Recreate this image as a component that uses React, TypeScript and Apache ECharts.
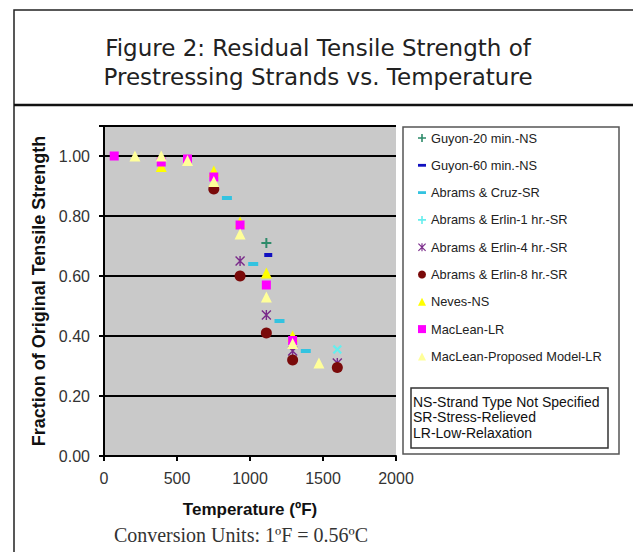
import React, { useEffect, useRef } from "react";
import * as echarts from "echarts";

const seriesNames = [
  "Guyon-20 min.-NS",
  "Guyon-60 min.-NS",
  "Abrams & Cruz-SR",
  "Abrams & Erlin-1 hr.-SR",
  "Abrams & Erlin-4 hr.-SR",
  "Abrams & Erlin-8 hr.-SR",
  "Neves-NS",
  "MacLean-LR",
  "MacLean-Proposed Model-LR",
];

const guyon20 = [[1112, 0.71]];
const guyon60 = [[1125, 0.67]];
const abramsCruz = [[842, 0.86], [1022, 0.64], [1202, 0.45], [1382, 0.35]];
const abramsErlin1 = [[1598, 0.355]];
const abramsErlin4 = [[932, 0.65], [1112, 0.47], [1292, 0.35], [1598, 0.31]];
const abramsErlin8 = [[752, 0.89], [932, 0.6], [1112, 0.41], [1292, 0.32], [1598, 0.295]];
const neves = [[392, 0.965], [752, 0.95], [932, 0.78], [1112, 0.61], [1292, 0.4]];
const macleanLR = [[70, 1.0], [392, 0.98], [572, 0.99], [752, 0.93], [932, 0.77], [1112, 0.57], [1292, 0.385]];
const macleanModel = [[212, 1.0], [392, 1.0], [572, 0.985], [752, 0.915], [932, 0.74], [1112, 0.53], [1292, 0.375], [1472, 0.31]];

const xTicks = [0, 500, 1000, 1500, 2000];
const yTicks = [0, 0.2, 0.4, 0.6, 0.8, 1.0];

const notes = ["NS-Strand Type Not Specified", "SR-Stress-Relieved", "LR-Low-Relaxation"];

const PLUS = "path://M4,0L6,0L6,4L10,4L10,6L6,6L6,10L4,10L4,6L0,6L0,4L4,4Z";
const STAR =
  "path://M0,1L1,0L10,9L9,10ZM9,0L10,1L1,10L0,9ZM4.3,0L5.7,0L5.7,10L4.3,10Z";
const DASH = "path://M0,0L10,0L10,3.5L0,3.5Z";

export default function App() {
  const ref = useRef<HTMLDivElement>(null);
  useEffect(() => {
    const chart = echarts.init(ref.current!, undefined, { renderer: "svg" });
    const datas = [guyon20, guyon60, abramsCruz, abramsErlin1, abramsErlin4, abramsErlin8, neves, macleanLR, macleanModel];
    const styles: any[] = [
      { symbol: PLUS, size: 10, color: "#2E8B6A", rotate: 0 },
      { symbol: DASH, size: [8, 4], color: "#1010C0", rotate: 0 },
      { symbol: DASH, size: [10, 4], color: "#33C3E0", rotate: 0 },
      { symbol: PLUS, size: 11, color: "#66EEEE", rotate: 45 },
      { symbol: STAR, size: 10, color: "#7A2A8A", rotate: 0 },
      { symbol: "circle", size: 11, color: "#7A0A0A", rotate: 0 },
      { symbol: "triangle", size: 11, color: "#FFFF00", rotate: 0 },
      { symbol: "rect", size: 9, color: "#FF00FF", rotate: 0 },
      { symbol: "triangle", size: 11, color: "#FFFF99", rotate: 0 },
    ];
    const series = datas.map((d, i) => ({
      type: "scatter",
      name: seriesNames[i],
      data: d,
      symbol: styles[i].symbol,
      symbolSize: styles[i].size,
      symbolRotate: styles[i].rotate,
      itemStyle: { color: styles[i].color, opacity: 1 },
      emphasis: { disabled: true },
    }));
    const option: any = {
      animation: false,
      backgroundColor: "#ffffff",
      grid: {
        left: 104,
        top: 126,
        width: 292,
        height: 330,
        show: true,
        backgroundColor: "#C9C9C9",
        borderWidth: 0,
      },
      xAxis: {
        type: "value",
        min: xTicks[0],
        max: xTicks[xTicks.length - 1],
        interval: 500,
        name: "Temperature (ºF)",
        nameLocation: "middle",
        nameGap: 45,
        nameTextStyle: { fontFamily: "Liberation Sans", fontWeight: "bold", fontSize: 17, color: "#111" },
        axisLine: { show: true, onZero: false, lineStyle: { color: "#000", width: 2 } },
        axisTick: { show: true, inside: false, length: 5, lineStyle: { color: "#000", width: 2 } },
        axisLabel: {
          fontFamily: "Liberation Sans",
          fontSize: 16,
          color: "#333",
          margin: 14,
          formatter: (v: number) => String(v),
        },
        splitLine: { show: false },
      },
      yAxis: {
        type: "value",
        min: yTicks[0],
        max: 1.1,
        interval: 0.2,
        name: "Fraction of Original Tensile Strength",
        nameLocation: "middle",
        nameGap: 56,
        nameTextStyle: { fontFamily: "Liberation Sans", fontWeight: "bold", fontSize: 18, color: "#111" },
        axisLine: { show: true, lineStyle: { color: "#000", width: 2 } },
        axisTick: { show: true, inside: false, length: 5, lineStyle: { color: "#000", width: 2 } },
        axisLabel: {
          fontFamily: "Liberation Sans",
          fontSize: 16,
          color: "#333",
          margin: 14,
          formatter: (v: number) => (yTicks.some((t) => Math.abs(t - v) < 1e-9) ? v.toFixed(2) : ""),
        },
        splitLine: { show: true, lineStyle: { color: "#000", width: 2 } },
      },
      legend: {
        orient: "vertical",
        left: 418,
        top: 131,
        padding: 0,
        itemWidth: 8,
        itemHeight: 8,
        itemGap: 13.3,
        selectedMode: false,
        textStyle: { fontFamily: "Liberation Sans", fontSize: 12.8, color: "#222", lineHeight: 14 },
        data: seriesNames,
      },
      graphic: [
        {
          type: "rect",
          shape: { x: 14, y: 10, width: 640, height: 560 },
          style: { fill: "none", stroke: "#222", lineWidth: 1.5 },
          silent: true,
        },
        {
          type: "line",
          shape: { x1: 14, y1: 105, x2: 640, y2: 105 },
          style: { stroke: "#111", lineWidth: 2.5 },
          silent: true,
        },
        {
          type: "text",
          x: 318,
          y: 62,
          style: {
            text: "Figure 2: Residual Tensile Strength of\nPrestressing Strands vs. Temperature",
            fontFamily: "DejaVu Sans",
            fontSize: 23,
            lineHeight: 29,
            fill: "#222",
            textAlign: "center",
            textVerticalAlign: "middle",
          },
          silent: true,
        },
        {
          type: "rect",
          shape: { x: 403, y: 127, width: 216, height: 327 },
          style: { fill: "none", stroke: "#555", lineWidth: 1.5 },
          silent: true,
        },
        {
          type: "rect",
          shape: { x: 411, y: 388, width: 197, height: 60 },
          style: { fill: "none", stroke: "#333", lineWidth: 1.5 },
          silent: true,
        },
        {
          type: "text",
          x: 413,
          y: 417,
          style: {
            text: notes.join("\n"),
            fontFamily: "Liberation Sans",
            fontSize: 14,
            lineHeight: 15.5,
            fill: "#111",
            textAlign: "left",
            textVerticalAlign: "middle",
          },
          silent: true,
        },
        {
          type: "text",
          x: 241,
          y: 535,
          style: {
            text: "Conversion Units: 1ºF = 0.56ºC",
            fontFamily: "Liberation Serif",
            fontSize: 20,
            fill: "#333",
            textAlign: "center",
            textVerticalAlign: "middle",
          },
          silent: true,
        },
      ],
      series,
    };
    chart.setOption(option);
    return () => chart.dispose();
  }, []);
  return (
    <div
      ref={ref}
      style={{ position: "fixed", left: 0, top: 0, width: 633, height: 552, background: "#fff" }}
    />
  );
}
